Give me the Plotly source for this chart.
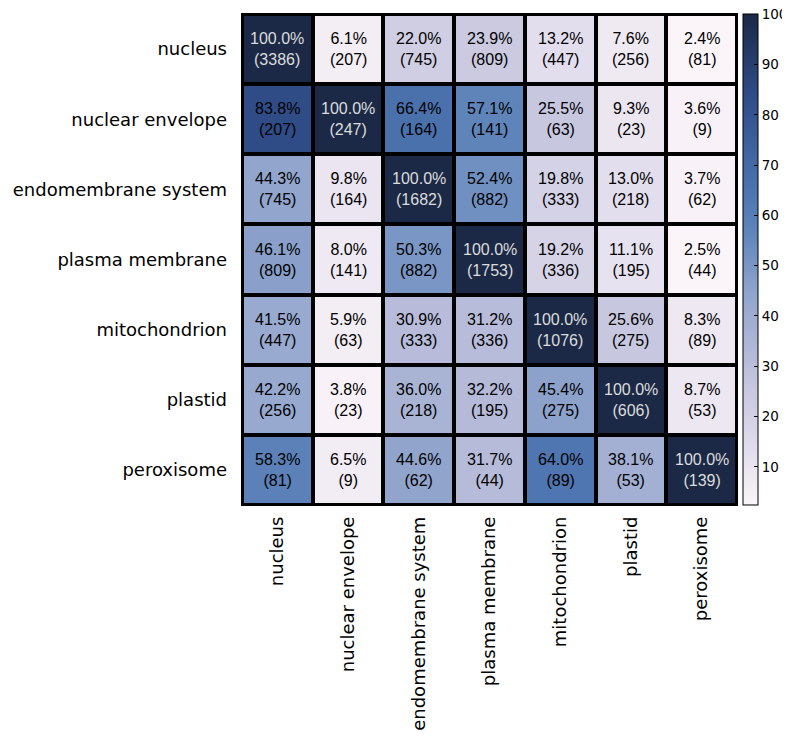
import plotly.graph_objects as go

categories = ["nucleus", "nuclear envelope", "endomembrane system", "plasma membrane",
              "mitochondrion", "plastid", "peroxisome"]

percent = [
    [100.0, 6.1, 22.0, 23.9, 13.2, 7.6, 2.4],
    [83.8, 100.0, 66.4, 57.1, 25.5, 9.3, 3.6],
    [44.3, 9.8, 100.0, 52.4, 19.8, 13.0, 3.7],
    [46.1, 8.0, 50.3, 100.0, 19.2, 11.1, 2.5],
    [41.5, 5.9, 30.9, 31.2, 100.0, 25.6, 8.3],
    [42.2, 3.8, 36.0, 32.2, 45.4, 100.0, 8.7],
    [58.3, 6.5, 44.6, 31.7, 64.0, 38.1, 100.0],
]

counts = [
    [3386, 207, 745, 809, 447, 256, 81],
    [207, 247, 164, 141, 63, 23, 9],
    [745, 164, 1682, 882, 333, 218, 62],
    [809, 141, 882, 1753, 336, 195, 44],
    [447, 63, 333, 336, 1076, 275, 89],
    [256, 23, 218, 195, 275, 606, 53],
    [81, 9, 62, 44, 89, 53, 139],
]

colorbar_ticks = [10, 20, 30, 40, 50, 60, 70, 80, 90, 100]

colorscale = [
    [0.0, "#fbf5fa"],
    [0.037, "#f3edf4"],
    [0.109, "#e3deed"],
    [0.232, "#c9c8e0"],
    [0.293, "#b8bcda"],
    [0.426, "#92a6cd"],
    [0.559, "#5e84ba"],
    [0.652, "#4a72ad"],
    [0.836, "#2f4c87"],
    [1.0, "#1b2946"],
]

zmin = min(min(r) for r in percent)
zmax = 100.05

fig = go.Figure()
fig.add_trace(go.Heatmap(
    z=percent, x=categories, y=categories,
    colorscale=colorscale, zmin=zmin, zmax=zmax,
    xgap=4, ygap=4, hoverinfo="skip",
    colorbar=dict(
        x=1.012, xanchor="left", y=0.5, yanchor="middle", len=1, lenmode="fraction",
        thickness=15, outlinecolor="black", outlinewidth=1,
        tickvals=colorbar_ticks, ticks="inside", ticklen=4, tickcolor="black",
        tickfont=dict(family="DejaVu Sans", size=13.5, color="black"),
        ticklabeloverflow="allow",
        xpad=0, ypad=0,
    ),
))

for i, row in enumerate(percent):
    for j, v in enumerate(row):
        fig.add_annotation(
            x=categories[j], y=categories[i],
            text=f"{v:.1f}%<br>({counts[i][j]})",
            showarrow=False,
            font=dict(family="Liberation Sans, Arial", size=16,
                      color="#dcdcdc" if v >= 90 else "black"),
        )

fig.add_shape(type="rect", xref="paper", yref="paper", x0=0, y0=0, x1=1, y1=1,
              line=dict(color="black", width=2))

fig.update_layout(
    width=790, height=739,
    margin=dict(l=234, r=61, t=6, b=242),
    plot_bgcolor="black", paper_bgcolor="white",
    xaxis=dict(tickangle=-90, tickfont=dict(family="DejaVu Sans", size=18, color="black"),
               showgrid=False, zeroline=False, ticks="", ticklabelstandoff=7, automargin=False),
    yaxis=dict(autorange="reversed", tickfont=dict(family="DejaVu Sans", size=18, color="black"),
               showgrid=False, zeroline=False, ticks="", ticklabelstandoff=14, automargin=False),
)

fig.write_html("out.html", config={"displayModeBar": False})
